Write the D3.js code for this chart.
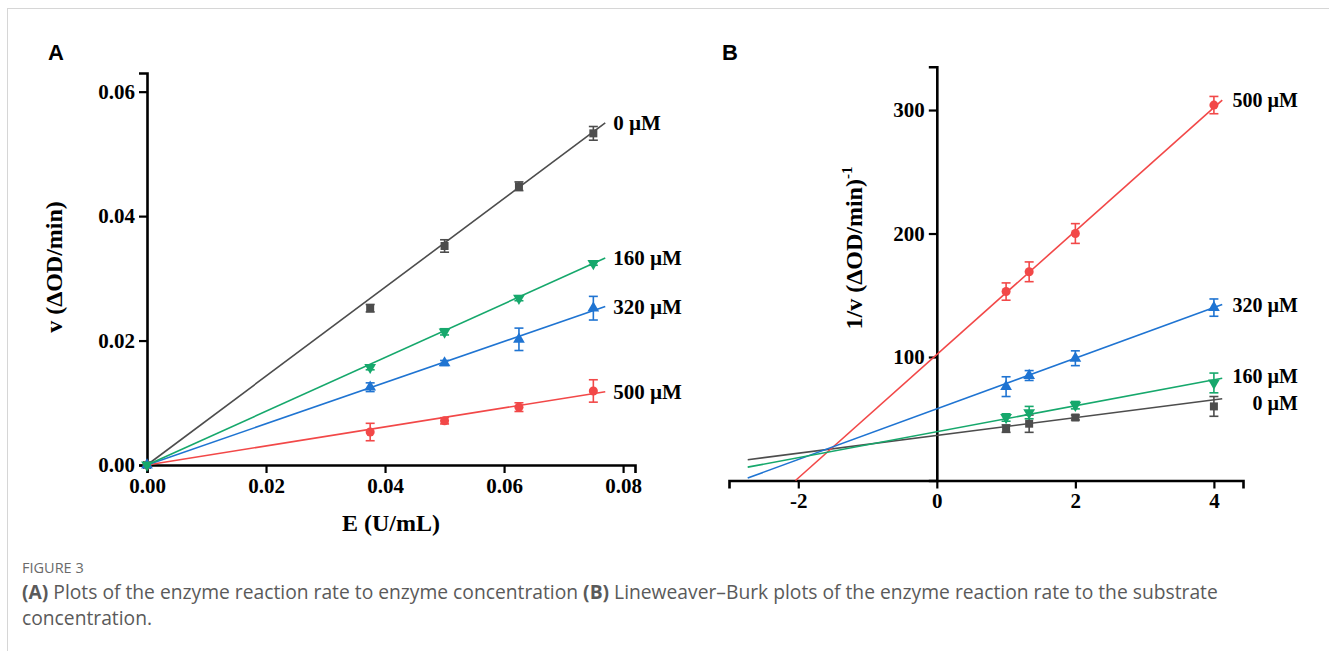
<!DOCTYPE html>
<html>
<head>
<meta charset="utf-8">
<script src="https://cdn.jsdelivr.net/npm/d3@7"></script>
<style>
  html, body { margin: 0; padding: 0; background: #fff; }
  svg { display: block; }
</style>
</head>
<body>
<svg id="chart" width="1329" height="651"></svg>
<script>
// ---------------- DATA ----------------
const concLabels = ["0 µM", "160 µM", "320 µM", "500 µM"];
const seriesColors = ["#4d4d4d", "#16a86c", "#1f74d2", "#f24848"];
const seriesShapes = ["square", "triangleDown", "triangleUp", "circle"];

// Panel A: v vs E
const aE = [0, 0.0375, 0.05, 0.0625, 0.075];
const aV_0   = [0, 0.0252, 0.0352, 0.0448, 0.0533];
const aV_160 = [0, 0.0157, 0.0214, 0.0268, 0.0324];
const aV_320 = [0, 0.0125, 0.0164, 0.0202, 0.0252];
const aV_500 = [0, 0.0053, 0.0071, 0.0093, 0.0119];
const aErr_0   = [0, 0.0006, 0.0010, 0.0007, 0.0011];
const aErr_160 = [0, 0.0004, 0.0005, 0.0004, 0.0003];
const aErr_320 = [0, 0.0007, 0.0004, 0.0018, 0.0019];
const aErr_500 = [0, 0.0014, 0.0005, 0.0007, 0.0018];
const aFitSlope = [0.714, 0.432, 0.331, 0.153];
const aFitRange = [0, 0.077];
const aXTicks = [0, 0.02, 0.04, 0.06, 0.08];
const aYTicks = [0, 0.02, 0.04, 0.06];

// Panel B: Lineweaver-Burk
const bInvS = [1, 1.333, 2, 4];
const bInvV_0   = [42, 46, 51, 60];
const bInvV_160 = [51, 55, 61, 79];
const bInvV_320 = [76, 85, 99, 140];
const bInvV_500 = [153, 169, 200, 304];
const bErr_0   = [3, 7, 2, 8];
const bErr_160 = [3, 5, 3, 8];
const bErr_320 = [8, 4, 6, 7];
const bErr_500 = [7, 8, 8, 7];
const bFitSlope = [7.2, 10.5, 20.5, 50.0];
const bFitIntercept = [36.5, 39.5, 58, 102];
const bFitStart = [-2.73, -2.73, -2.73, -2.04];
const bFitEnd = 4.12;
const bXTicks = [-2, 0, 2, 4];
const bYTicks = [100, 200, 300];

const captionTitle = "FIGURE 3";

// ---------------- DRAW ----------------
const svg = d3.select("#chart");
const serif = "'Liberation Serif', 'Times New Roman', serif";

// frame lines
svg.append("line").attr("x1", 7.5).attr("x2", 7.5).attr("y1", 8).attr("y2", 651)
  .attr("stroke", "#d6d6d6").attr("stroke-width", 1);
svg.append("line").attr("x1", 7.5).attr("x2", 1329).attr("y1", 8.5).attr("y2", 8.5)
  .attr("stroke", "#d6d6d6").attr("stroke-width", 1);

function marker(g, shape, color, x, y) {
  let sym, size, rot = 0;
  if (shape === "square") { sym = d3.symbolSquare; size = 64; }
  else if (shape === "circle") { sym = d3.symbolCircle; size = 64; }
  else if (shape === "triangleUp") { sym = d3.symbolTriangle; size = 60; }
  else { sym = d3.symbolTriangle; size = 60; rot = 180; }
  g.append("path").attr("d", d3.symbol(sym, size)())
    .attr("transform", `translate(${x},${y}) rotate(${rot})`)
    .attr("fill", color);
}

function errBar(g, color, x, y1, y2) {
  if (Math.abs(y1 - y2) < 1) return;
  g.append("line").attr("x1", x).attr("x2", x).attr("y1", y1).attr("y2", y2)
    .attr("stroke", color).attr("stroke-width", 1.6);
  [y1, y2].forEach(y => g.append("line").attr("x1", x - 4.5).attr("x2", x + 4.5)
    .attr("y1", y).attr("y2", y).attr("stroke", color).attr("stroke-width", 1.6));
}

function styleAxis(ax) {
  ax.select(".domain").attr("stroke", "#000").attr("stroke-width", 2.6);
  ax.selectAll(".tick line").attr("stroke", "#000").attr("stroke-width", 2.2);
  ax.selectAll(".tick text").attr("fill", "#000").attr("font-family", serif)
    .attr("font-weight", "bold").attr("font-size", 21);
}

// ---------- Panel A ----------
{
  const x = d3.scaleLinear().domain([0, 0.082]).range([147, 635]);
  const y = d3.scaleLinear().domain([0, 0.063]).range([465, 73]);
  const g = svg.append("g");

  const xa = g.append("g").attr("transform", `translate(0,${y(0)})`)
    .call(d3.axisBottom(x).tickValues(aXTicks).tickFormat(d3.format(".2f")).tickSizeOuter(0).tickSize(8).tickPadding(5));
  styleAxis(xa);
  const ya = g.append("g").attr("transform", `translate(${x(0)},0)`)
    .call(d3.axisLeft(y).tickValues(aYTicks).tickFormat(d3.format(".2f")).tickSizeOuter(0).tickSize(8).tickPadding(4));
  styleAxis(ya);

  const vals = [aV_0, aV_160, aV_320, aV_500];
  const errs = [aErr_0, aErr_160, aErr_320, aErr_500];
  const order = [0, 3, 2, 1];
  order.forEach(i => {
    const c = seriesColors[i];
    g.append("line")
      .attr("x1", x(aFitRange[0])).attr("y1", y(aFitSlope[i] * aFitRange[0]))
      .attr("x2", x(aFitRange[1])).attr("y2", y(aFitSlope[i] * aFitRange[1]))
      .attr("stroke", c).attr("stroke-width", 1.6);
    aE.forEach((e, k) => {
      errBar(g, c, x(e), y(vals[i][k] - errs[i][k]), y(vals[i][k] + errs[i][k]));
      marker(g, seriesShapes[i], c, x(e), y(vals[i][k]));
    });
    g.append("text").attr("x", x(aFitRange[1]) + 8).attr("y", y(aFitSlope[i] * aFitRange[1]))
      .attr("dy", "0.35em").attr("font-family", serif).attr("font-weight", "bold")
      .attr("font-size", 21).attr("fill", "#000").text(concLabels[i]);
  });

  g.append("text").attr("x", 391).attr("y", 531).attr("text-anchor", "middle")
    .attr("font-family", serif).attr("font-weight", "bold").attr("font-size", 24)
    .text("E (U/mL)");
  g.append("text").attr("transform", "translate(62,267) rotate(-90)").attr("text-anchor", "middle")
    .attr("font-family", serif).attr("font-weight", "bold").attr("font-size", 24)
    .text("v (ΔOD/min)");
  g.append("text").attr("x", 48).attr("y", 60)
    .attr("font-family", "'Liberation Sans', Arial, sans-serif").attr("font-weight", "bold")
    .attr("font-size", 22).text("A");
}

// ---------- Panel B ----------
{
  const x = d3.scaleLinear().domain([-3, 4.42]).range([729, 1243]);
  const y = d3.scaleLinear().domain([0, 335]).range([480.5, 66.8]);
  const g = svg.append("g");

  const xa = g.append("g").attr("transform", `translate(0,${y(0)})`)
    .call(d3.axisBottom(x).tickValues(bXTicks).tickFormat(d3.format("d")).tickSizeOuter(0).tickSize(8).tickPadding(5));
  styleAxis(xa);
  xa.selectAll(".tick text").text(d => d < 0 ? "-" + Math.abs(d) : d);
  const ya = g.append("g").attr("transform", `translate(${x(0)},0)`)
    .call(d3.axisLeft(y).tickValues(bYTicks).tickFormat(d3.format("d")).tickSizeOuter(0).tickSize(8).tickPadding(4));
  styleAxis(ya);

  const vals = [bInvV_0, bInvV_160, bInvV_320, bInvV_500];
  const errs = [bErr_0, bErr_160, bErr_320, bErr_500];
  const labelShift = [4, -2, 0, 0];
  const order = [0, 3, 2, 1];
  order.forEach(i => {
    const c = seriesColors[i];
    const f = t => bFitIntercept[i] + bFitSlope[i] * t;
    g.append("line")
      .attr("x1", x(bFitStart[i])).attr("y1", y(f(bFitStart[i])))
      .attr("x2", x(bFitEnd)).attr("y2", y(f(bFitEnd)))
      .attr("stroke", c).attr("stroke-width", 1.6);
    bInvS.forEach((s, k) => {
      errBar(g, c, x(s), y(vals[i][k] - errs[i][k]), y(vals[i][k] + errs[i][k]));
      marker(g, seriesShapes[i], c, x(s), y(vals[i][k]));
    });
    g.append("text").attr("x", 1298).attr("y", y(f(bFitEnd)) + labelShift[i])
      .attr("dy", "0.35em").attr("text-anchor", "end").attr("font-family", serif).attr("font-weight", "bold")
      .attr("font-size", 20).attr("fill", "#000").text(concLabels[i]);
  });

  const yt = g.append("text").attr("transform", "translate(862,248) rotate(-90)").attr("text-anchor", "middle")
    .attr("font-family", serif).attr("font-weight", "bold").attr("font-size", 24);
  yt.append("tspan").text("1/v (ΔOD/min)");
  yt.append("tspan").attr("dy", -10).attr("font-size", 15).text("-1");

  g.append("text").attr("x", 722).attr("y", 60)
    .attr("font-family", "'Liberation Sans', Arial, sans-serif").attr("font-weight", "bold")
    .attr("font-size", 22).text("B");
}

// ---------- Caption ----------
{
  const cf = "'Open Sans', 'Noto Sans', sans-serif";
  svg.append("text").attr("x", 22).attr("y", 573).attr("font-family", cf)
    .attr("font-size", 14.5).attr("fill", "#6a6a6a").text(captionTitle);
  const l1 = svg.append("text").attr("x", 22).attr("y", 599).attr("font-family", cf)
    .attr("font-size", 16).attr("fill", "#5a5a5a");
  l1.append("tspan").attr("font-weight", "bold").text("(A)");
  l1.append("tspan").text(" Plots of the enzyme reaction rate to enzyme concentration ");
  l1.append("tspan").attr("font-weight", "bold").text("(B)");
  l1.append("tspan").text(" Lineweaver\u2013Burk plots of the enzyme reaction rate to the substrate");
  // size line 1 so it spans the caption width
  const natural = l1.node().getComputedTextLength();
  const fs = 16 * 1196 / natural;
  l1.attr("font-size", fs);
  svg.append("text").attr("x", 22).attr("y", 625).attr("font-family", cf)
    .attr("font-size", fs).attr("fill", "#5a5a5a").text("concentration.");
}
</script>
</body>
</html>
